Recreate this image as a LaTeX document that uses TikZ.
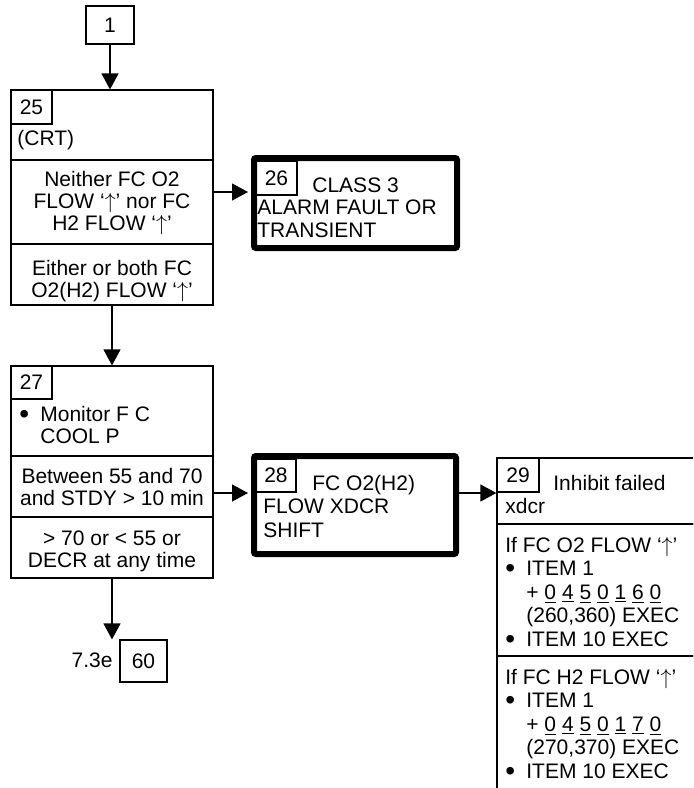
\documentclass[tikz,border=0pt]{standalone}
\usepackage{fontspec}
\setmainfont{Liberation Sans}
\usetikzlibrary{arrows.meta, fit}
\newcommand{\up}{‘$\uparrow$’}
\newcommand{\dotmark}{\raisebox{-1.2pt}{\fontsize{14}{11}\selectfont •}}

\begin{document}
\begin{tikzpicture}[x=0.5pt, y=-0.5pt, font=\fontsize{10.5}{11}\selectfont,
	cell/.style={draw, line width=0.6pt, inner sep=0pt},
	heavy/.style={draw, line width=3pt, inner sep=0pt, rounded corners=1pt},
	txt/.style={inner sep=0pt, anchor=base west, align=left},
	mid/.style={inner sep=0pt, anchor=base, align=center},
	num/.style={inner sep=0pt},
	arr/.style={-{Triangle[length=8pt, width=8.5pt]}, line width=0.6pt}]
	\useasboundingbox (0,0) rectangle (693,788);
	\clip (0,0) rectangle (693,788);

	\node[cell, fit={(86,6) (134,44)}] (box1) {};
	\node[num] (n1) at (box1) {1};

	\node[cell, fit={(11,90) (213,160)}] (b25top) {};
	\node[cell, fit={(11,90) (52,124)}] (t25) {};
	\node[num] (n25) at (t25) {25};
	\node[txt] (crt) at (17,145) {(CRT)};
	\node[cell, fit={(11,160) (213,244)}] (b25a) {};
	\node[mid] (neither) at (112,230) {Neither FC O2\\FLOW \up{} nor FC\\H2 FLOW \up};
	\node[cell, fit={(11,244) (213,305)}] (b25b) {};
	\node[mid] (either) at (112,297) {Either or both FC\\O2(H2) FLOW \up};

	\node[heavy, fit={(254,158) (457,248)}] (b26) {};
	\node[cell, fit={(256,161) (297,195)}] (t26) {};
	\node[num] (n26) at (t26) {26};
	\node[txt, font=\fontsize{10.5}{11.25}\selectfont] (class) at (257,237)
		{\hspace*{27.5pt}CLASS 3\\ALARM FAULT OR\\TRANSIENT};

	\node[cell, fit={(11,366) (213,456)}] (b27top) {};
	\node[cell, fit={(11,366) (52,399)}] (t27) {};
	\node[num] (n27) at (t27) {27};
	\node[txt] (monitor) at (19,443) {\makebox[10.5pt][l]{\dotmark}Monitor F C\\\hspace*{10.5pt}COOL P};
	\node[cell, fit={(11,456) (213,517)}] (b27a) {};
	\node[mid] (between) at (112,505) {Between 55 and 70\\and STDY > 10 min};
	\node[cell, fit={(11,517) (213,578)}] (b27b) {};
	\node[mid] (outside) at (112,567) {> 70 or < 55 or\\DECR at any time};

	\node[heavy, fit={(254,456) (456,554)}] (b28) {};
	\node[cell, fit={(256,459) (296,492)}] (t28) {};
	\node[num] (n28) at (t28) {28};
	\node[txt, font=\fontsize{10.5}{11.75}\selectfont] (shift) at (263,537)
		{\hspace*{24.5pt}FC O2(H2)\\FLOW XDCR\\SHIFT};

	\node[cell, fit={(497,458) (720,524)}] (b29top) {};
	\node[cell, fit={(497,458) (539,492)}] (t29) {};
	\node[num] (n29) at (t29) {29};
	\node[txt] (inhibit) at (553,490) {Inhibit failed};
	\node[txt] (xdcr) at (505,513) {xdcr};
	\node[cell, fit={(497,524) (720,656)}] (b29a) {};
	\node[txt, font=\fontsize{10.5}{11.75}\selectfont] (ifo2) at (505,646)
		{If FC O2 FLOW \up\\
		\makebox[10.5pt][l]{\dotmark}ITEM 1\\
		\hspace*{10.5pt}+ \underline{0} \underline{4} \underline{5} \underline{0} \underline{1} \underline{6} \underline{0}\\
		\hspace*{10.5pt}(260,360) EXEC\\
		\makebox[10.5pt][l]{\dotmark}ITEM 10 EXEC};
	\node[cell, fit={(497,656) (720,820)}] (b29b) {};
	\node[txt, font=\fontsize{10.5}{11.75}\selectfont] (ifh2) at (505,778)
		{If FC H2 FLOW \up\\
		\makebox[10.5pt][l]{\dotmark}ITEM 1\\
		\hspace*{10.5pt}+ \underline{0} \underline{4} \underline{5} \underline{0} \underline{1} \underline{7} \underline{0}\\
		\hspace*{10.5pt}(270,370) EXEC\\
		\makebox[10.5pt][l]{\dotmark}ITEM 10 EXEC};

	\node[cell, fit={(120,640) (167,682)}] (b60) {};
	\node[num] (n60) at (b60) {60};
	\node[inner sep=0pt, anchor=base east] (sec) at (113,667) {7.3e};

	\coordinate (y26) at (0,192);
	\coordinate (y28) at (0,493);
	\draw[arr] (box1.south) -- (box1.south |- b25top.north);
	\draw[arr, shorten >=1.5pt] (b25a.east |- y26) -- (b26.west |- y26);
	\draw[arr] (b25b.south) -- (b25b.south |- b27top.north);
	\draw[arr, shorten >=1.5pt] (b27a.east |- y28) -- (b28.west |- y28);
	\draw[arr] (b28.east |- y28) -- (b29top.west |- y28);
	\draw[arr] (b27b.south) -- (b27b.south |- b60.north);
\end{tikzpicture}
\end{document}
